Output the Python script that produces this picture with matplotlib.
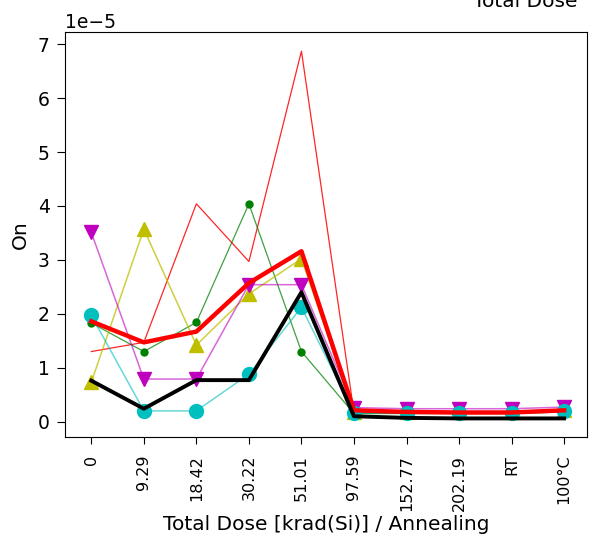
import matplotlib
matplotlib.use("Agg")
import matplotlib.pyplot as plt

categories = ["0", "9.29", "18.42", "30.22", "51.01", "97.59",
              "152.77", "202.19", "RT", "100°C"]

# values in units of 1e-5
dut_red     = [1.30, 1.47, 4.04, 2.97, 6.87, 0.17, 0.16, 0.16, 0.16, 0.20]
dut_green   = [1.83, 1.30, 1.84, 4.04, 1.30, 0.15, 0.15, 0.15, 0.15, 0.18]
dut_yellow  = [0.73, 3.57, 1.42, 2.37, 3.02, 0.18, 0.18, 0.18, 0.18, 0.21]
dut_magenta = [3.51, 0.79, 0.79, 2.54, 2.54, 0.26, 0.24, 0.24, 0.24, 0.27]
dut_cyan    = [1.97, 0.20, 0.20, 0.88, 2.12, 0.16, 0.16, 0.16, 0.16, 0.20]
mean_vals   = [1.86, 1.47, 1.67, 2.57, 3.16, 0.21, 0.18, 0.17, 0.17, 0.21]
ref_vals    = [0.76, 0.24, 0.77, 0.77, 2.40, 0.10, 0.07, 0.06, 0.06, 0.06]

SCALE = 1e-5

plt.rcParams.update({"font.size": 13.5})

fig = plt.figure(figsize=(5.89, 5.40), dpi=100)
ax = fig.add_axes([0.1104, 0.1902, 0.8857, 0.750])

x = list(range(len(categories)))


def s(v):
    return [val * SCALE for val in v]


# thin per-device traces: lighter line, solid marker
ax.plot(x, s(dut_red), "-", color="r", linewidth=0.9, alpha=0.85)
ax.plot(x, s(dut_green), "-", color="g", linewidth=0.9, alpha=0.75)
ax.plot(x, s(dut_green), "o", color="g", markersize=5)
ax.plot(x, s(dut_yellow), "-", color="y", linewidth=1.1, alpha=0.75)
ax.plot(x, s(dut_yellow), "^", color="y", markersize=10)
ax.plot(x, s(dut_magenta), "-", color="m", linewidth=1.1, alpha=0.6)
ax.plot(x, s(dut_magenta), "v", color="m", markersize=10)
ax.plot(x, s(dut_cyan), "-", color="c", linewidth=1.1, alpha=0.6)
ax.plot(x, s(dut_cyan), "o", color="c", markersize=10)

ax.plot(x, s(mean_vals), "-", color="r", linewidth=3.2)
ax.plot(x, s(ref_vals), "-", color="k", linewidth=2.8)

ax.set_xlim(-0.5, 9.43)
ax.set_ylim(-0.29 * SCALE, 7.22 * SCALE)
ax.set_xticks(x)
ax.set_xticklabels(categories, rotation=90, fontsize=11.5)
ax.tick_params(axis="x", length=5, pad=7.5)
ax.tick_params(axis="y", length=5.5, pad=5.5)
ax.set_xlabel("Total Dose [krad(Si)] / Annealing", fontsize=14.5, labelpad=3)
ax.set_ylabel("On", fontsize=14.5, labelpad=6)

fig.text(0.981, 0.987, "Total Dose", ha="right", va="baseline", fontsize=14.5)

fig.savefig("out.png", dpi=100)
